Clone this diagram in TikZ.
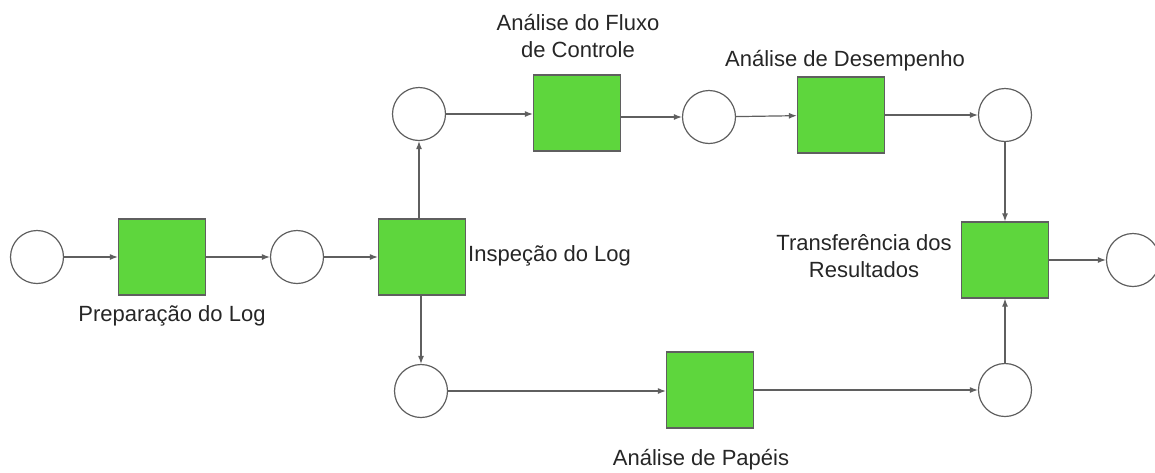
\documentclass[tikz,border=0pt]{standalone}
\usepackage{fontspec}
\setmainfont{Liberation Sans}
\usetikzlibrary{arrows.meta}
\definecolor{transgreen}{RGB}{94,214,61}
\definecolor{edgegray}{RGB}{95,95,95}
\tikzset{place/.style={circle,draw=edgegray,fill=white,line width=1.2pt,minimum size=53pt,inner sep=0pt},
trans/.style={rectangle,draw=edgegray,fill=transgreen,line width=1.2pt,minimum width=87pt,minimum height=76pt,inner sep=0pt},
arc/.style={draw=edgegray,line width=1.2pt,-{Latex[length=8pt,width=6pt]}},
lbl/.style={font=\fontsize{22}{27}\selectfont,text=black!85,align=center,inner sep=0pt}}

\begin{document}
\begin{tikzpicture}[x=1pt,y=-1pt]
\useasboundingbox (0,0) rectangle (1155,472);
\node[place] (p1) at (37,257) {};
\node[trans] (t1) at (162,257) {};
\node[place] (p2) at (297,257) {};
\node[trans] (t2) at (422,257) {};
\node[place] (p3) at (419,114) {};
\node[trans] (t3) at (577,113) {};
\node[place] (p4) at (709,117) {};
\node[trans] (t4) at (841,115) {};
\node[place] (p5) at (1005,115) {};
\node[trans] (t5) at (1005,260) {};
\node[place] (p6) at (1133,260) {};
\node[place] (p7) at (421,391) {};
\node[trans] (t6) at (710,390) {};
\node[place] (p8) at (1005,390) {};

\node[lbl] (l1) at (172,316) {Preparação do Log};
\node[lbl,anchor=west] (l2) at (468,256) {Inspeção do Log};
\node[lbl] (l3) at (578,36) {Análise do Fluxo\\de Controle};
\node[lbl] (l4) at (845,61) {Análise de Desempenho};
\node[lbl] (l5) at (864,256) {Transferência dos\\Resultados};
\node[lbl] (l6) at (701,460) {Análise de Papéis};

\draw[arc] (p1) -- (t1);
\draw[arc] (t1) -- (p2);
\draw[arc] (p2) -- (t2);
\draw[arc] (t2.north -| p3) -- (p3);
\draw[arc] (p3) -- (p3 -| t3.west);
\draw[arc] (t3.east |- p4) -- (p4);
\draw[arc] (p4) -- (t4);
\draw[arc] (t4) -- (p5);
\draw[arc] (p5) -- (t5);
\draw[arc] (t5) -- (p6);
\draw[arc] (t2.south -| p7) -- (p7);
\draw[arc] (p7) -- (p7 -| t6.west);
\draw[arc] (t6.east |- p8) -- (p8);
\draw[arc] (p8) -- (t5);

\end{tikzpicture}
\end{document}
